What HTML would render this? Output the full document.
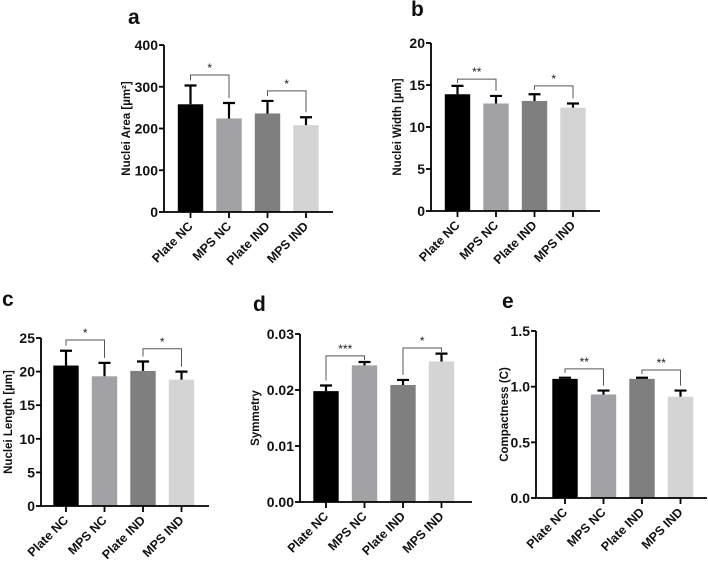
<!DOCTYPE html>
<html><head><meta charset="utf-8"><style>
body{margin:0;background:#fff;}
svg{display:block;font-family:"Liberation Sans",Arial,sans-serif;}
</style></head><body>
<svg id="fig" width="708" height="564" viewBox="0 0 708 564"></svg>
<script>
const categories = ["Plate NC","MPS NC","Plate IND","MPS IND"];
const barColors = ["#000000","#a1a1a6","#7f7f7f","#d4d4d4"];
const aValues = [258,224,236,208];
const aErrors = [45,37,30,19];
const aTicks = [0,100,200,300,400];
const bValues = [13.9,12.8,13.1,12.3];
const bErrors = [1.0,0.9,0.8,0.5];
const bTicks = [0,5,10,15,20];
const cValues = [20.9,19.3,20.1,18.8];
const cErrors = [2.2,2.0,1.4,1.2];
const cTicks = [0,5,10,15,20,25];
const dValues = [0.0198,0.0244,0.0209,0.0251];
const dErrors = [0.0010,0.0006,0.0009,0.0014];
const dTicks = [0,0.01,0.02,0.03];
const dTickLabels = ["0.00","0.01","0.02","0.03"];
const eValues = [1.07,0.93,1.07,0.91];
const eErrors = [0.01,0.035,0.01,0.055];
const eTicks = [0,0.5,1.0,1.5];
const eTickLabels = ["0.0","0.5","1.0","1.5"];
const aSig = [["*",328,0,1],["*",290,2,3]];
const bSig = [["**",15.7,0,1],["*",14.9,2,3]];
const cSig = [["*",24.7,0,1],["*",23.4,2,3]];
const dSig = [["***",0.0261,0,1],["*",0.0275,2,3]];
const eSig = [["**",1.16,0,1],["**",1.15,2,3]];

const NS="http://www.w3.org/2000/svg";
const svg=document.getElementById('fig');
function mk(tag,attrs,parent){const e=document.createElementNS(NS,tag);for(const k in attrs)e.setAttribute(k,attrs[k]);(parent||svg).appendChild(e);return e;}

function panel(p){
  const g=mk('g',{});
  
  
  const y=v=>p.y0-(v-0)/(p.max)*(p.y0-p.yTop);
  const x=i=>p.x0+p.first+i*38.5;
  const t=mk('text',{x:p.lx,y:p.ly,'font-size':21,'font-weight':'bold',fill:'#111'},g);t.textContent=p.id;
  
  
  p.values.forEach((v,i)=>{
    const bx=x(i);
    const r=mk('rect',{x:bx-12.7,y:y(v),width:25.4,height:p.y0-y(v),fill:barColors[i]},g);
    
    
    const et=y(v+p.errors[i]);
    const el=mk('path',{d:`M${bx},${y(v)}V${et}M${bx-6},${et}H${bx+6}`,stroke:'#000','stroke-width':2.2,fill:'none'},g);
    
    
  });
  const ax=mk('path',{d:`M${p.x0},${p.yTop}V${p.y0}H${p.xEnd}`,stroke:'#000','stroke-width':1.8,fill:'none'},g);
  
  
  p.ticks.forEach((tv,k)=>{
    const ty=y(tv);
    mk('line',{x1:p.x0-5,x2:p.x0,y1:ty,y2:ty,stroke:'#000','stroke-width':1.8},g);
    const tl=mk('text',{x:p.x0-6,y:ty+5,'font-size':14,'font-weight':'bold','text-anchor':'end',fill:'#111'},g);
    tl.textContent=p.tickLabels?p.tickLabels[k]:String(tv);
    
    
  });
  categories.forEach((c,i)=>{
    const cx=x(i);
    mk('line',{x1:cx,x2:cx,y1:p.y0,y2:p.y0+6,stroke:'#000','stroke-width':1.8},g);
    const tl=mk('text',{x:cx+3,y:p.y0+15,'font-size':12.5,'font-weight':'bold','text-anchor':'end',fill:'#111',transform:`rotate(-45 ${cx+3} ${p.y0+15})`},g);
    tl.textContent=c;
    
    
  });
  const mid=(p.y0+p.yTop)/2;
  const yt=mk('text',{x:mid,y:p.tx,'font-size':11.5,'font-weight':'bold','text-anchor':'middle',fill:'#111',transform:`translate(0 0)`},g);
  yt.setAttribute('x',0);yt.setAttribute('y',0);
  yt.setAttribute('transform',`translate(${p.tx} ${mid}) rotate(-90)`);
  yt.textContent=p.title;
  
  
  p.sig.forEach(s=>{
    const [lab,v,a,b]=s;
    const by=y(v),xa=x(a),xb=x(b);
    const ya=y(p.values[a]+p.errors[a])-5, yb=y(p.values[b]+p.errors[b])-5;
    const br=mk('path',{d:`M${xa},${Math.max(ya,by+4)}V${by}H${xb}V${Math.max(yb,by+4)}`,stroke:'#555','stroke-width':1,fill:'none'},g);
    
    
    const st=mk('text',{x:(xa+xb)/2,y:by-3,'font-size':12,'text-anchor':'middle',fill:'#222'},g);
    st.textContent=lab;
    
    
  });
}
panel({id:'a',values:aValues,errors:aErrors,ticks:aTicks,max:400,x0:164,y0:212,yTop:45,xEnd:333,first:26.5,lx:128,ly:24,tx:130,title:'Nuclei Area [µm²]',sig:aSig});
panel({id:'b',values:bValues,errors:bErrors,ticks:bTicks,max:20,x0:431,y0:211,yTop:43,xEnd:600,first:26.5,lx:411,ly:16,tx:401,title:'Nuclei Width [µm]',sig:bSig});
panel({id:'c',values:cValues,errors:cErrors,ticks:cTicks,max:25,x0:41,y0:506,yTop:338,xEnd:209,first:25,lx:2,ly:306,tx:12,title:'Nuclei Length [µm]',sig:cSig});
panel({id:'d',values:dValues,errors:dErrors,ticks:dTicks,tickLabels:dTickLabels,max:0.03,x0:300,y0:502,yTop:334,xEnd:472,first:26,lx:253,ly:311,tx:259,title:'Symmetry',sig:dSig});
panel({id:'e',values:eValues,errors:eErrors,ticks:eTicks,tickLabels:eTickLabels,max:1.5,x0:536,y0:498,yTop:331,xEnd:707,first:29,lx:502,ly:308,tx:508,title:'Compactness (C)',sig:eSig});
</script>
</body></html>
